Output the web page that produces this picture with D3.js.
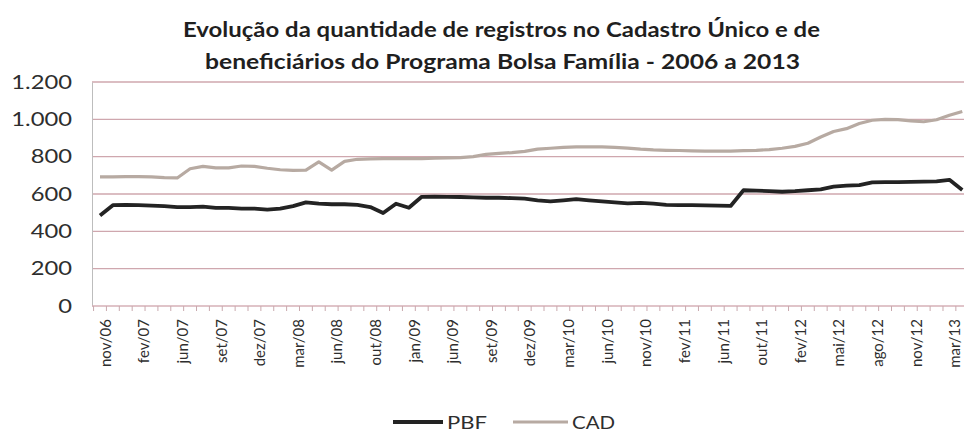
<!DOCTYPE html>
<html><head><meta charset="utf-8">
<script src="https://cdn.jsdelivr.net/npm/d3@7"></script>
<style>body{margin:0;background:#fff}svg{display:block}</style>
</head><body><svg id="c" width="964" height="433"></svg>
<script>
const categories=["nov/06","dez/06","jan/07","fev/07","mar/07","abr/07","jun/07","jul/07","ago/07","set/07","out/07","nov/07","dez/07","jan/08","fev/08","mar/08","abr/08","mai/08","jun/08","jul/08","ago/08","out/08","nov/08","dez/08","jan/09","mar/09","abr/09","jun/09","jul/09","ago/09","set/09","out/09","nov/09","dez/09","jan/10","fev/10","mar/10","abr/10","mai/10","jun/10","ago/10","set/10","nov/10","dez/10","jan/11","fev/11","abr/11","mai/11","jun/11","ago/11","set/11","out/11","dez/11","jan/12","fev/12","mar/12","abr/12","mai/12","jun/12","jul/12","ago/12","set/12","out/12","nov/12","jan/13","fev/13","mar/13","abr/13"];
const pbfValues=[485,540,542,540,538,535,530,530,532,526,526,522,522,516,522,535,555,548,545,545,542,530,498,548,526,585,586,585,584,582,580,580,578,575,566,560,566,572,566,560,555,550,552,548,542,540,540,539,538,536,620,618,615,612,615,620,625,640,645,648,662,664,664,665,666,668,676,622];
const cadValues=[692,692,693,693,692,688,686,735,748,740,740,750,748,738,730,727,728,772,728,775,786,788,789,790,790,790,792,793,795,800,812,818,822,828,840,845,850,852,853,852,850,846,840,836,834,833,831,830,830,830,832,834,838,845,855,872,905,935,950,978,995,1000,998,992,987,998,1022,1042];
const yTickValues=[0,200,400,600,800,1000,1200];
const seriesNames=["PBF","CAD"];
const seriesColors=["#232323","#b7aaa2"];
const titleLines=["Evolução da quantidade de registros no Cadastro Único e de","beneficiários do Programa Bolsa Família - 2006 a 2013"];

const svg=d3.select("#c");
const FONT="Lato, 'Open Sans', sans-serif";
svg.append("rect").attr("width",964).attr("height",433).attr("fill","#fff");

const x=d3.scalePoint().domain(categories).range([100,100+12.87*(categories.length-1)]);
const step=x.step();
const y=d3.scaleLinear().domain([0,1200]).range([306,82]);
const locale=d3.formatLocale({decimal:",",thousands:".",grouping:[3],currency:["R$",""]});
const fmt=locale.format(",d");

// gridlines
svg.append("g").selectAll("line").data(yTickValues.filter(d=>d>0)).join("line")
  .attr("x1",92).attr("x2",964).attr("y1",d=>y(d)).attr("y2",d=>y(d))
  .attr("stroke","#cfa7ae").attr("stroke-width",1.3);

// y axis
const ya=svg.append("g").attr("transform","translate(92,0)")
  .call(d3.axisLeft(y).tickValues(yTickValues).tickSize(0).tickPadding(0).tickFormat(fmt));
ya.select(".domain").attr("stroke","#bdbdbd").attr("stroke-width",1);
ya.selectAll("text").attr("font-family",FONT).attr("font-size",19).attr("fill","#2e2e2e")
  .attr("x",-20/1.25).attr("transform","scale(1.25,1)");

// x axis baseline and tick marks
svg.append("line").attr("x1",92).attr("x2",964).attr("y1",y(0)).attr("y2",y(0))
  .attr("stroke","#d6b0b7").attr("stroke-width",1.3);
svg.append("g").selectAll("line").data(categories).join("line")
  .attr("x1",d=>x(d)-step/2).attr("x2",d=>x(d)-step/2)
  .attr("y1",y(0)).attr("y2",y(0)+5).attr("stroke","#c9a9ae").attr("stroke-width",1);

const labelCats=categories.filter((d,i)=>i%3===0);
const xa=svg.append("g").attr("transform",`translate(0,${y(0)})`)
  .call(d3.axisBottom(x).tickValues(labelCats).tickSize(0).tickPadding(0));
xa.select(".domain").remove();
xa.selectAll("text").attr("font-family",FONT).attr("font-size",15).attr("fill","#2e2e2e")
  .attr("text-anchor","end").attr("dy","0.35em").attr("y",0).attr("x",0)
  .attr("transform","translate(5,13) rotate(-90)");

// lines
const line=d3.line().x((d,i)=>x(categories[i])).y(d=>y(d)).curve(d3.curveLinear);
svg.append("path").datum(cadValues).attr("d",line).attr("fill","none")
  .attr("stroke",seriesColors[1]).attr("stroke-width",3.2).attr("stroke-linejoin","round");
svg.append("path").datum(pbfValues).attr("d",line).attr("fill","none")
  .attr("stroke",seriesColors[0]).attr("stroke-width",3.8).attr("stroke-linejoin","round");

// title
const tl=svg.append("g");
tl.append("text").attr("x",501.5).attr("y",37).attr("text-anchor","middle")
  .attr("font-family",FONT).attr("font-weight","bold").attr("font-size",20).attr("fill","#1f1f1f")
  .attr("textLength",637).attr("lengthAdjust","spacingAndGlyphs").text(titleLines[0]);
tl.append("text").attr("x",502.5).attr("y",69).attr("text-anchor","middle")
  .attr("font-family",FONT).attr("font-weight","bold").attr("font-size",20).attr("fill","#1f1f1f")
  .attr("textLength",595).attr("lengthAdjust","spacingAndGlyphs").text(titleLines[1]);

// legend
const legendPos=[{x1:393,x2:443,tx:447,tw:40},{x1:513,x2:568,tx:572,tw:43}];
const lg=svg.append("g");
seriesNames.forEach((n,i)=>{
  const p=legendPos[i];
  lg.append("line").attr("x1",p.x1).attr("x2",p.x2).attr("y1",422).attr("y2",422)
    .attr("stroke",seriesColors[i]).attr("stroke-width",i===0?3.8:3.2);
  lg.append("text").attr("x",p.tx).attr("y",429).attr("font-family",FONT).attr("font-size",18)
    .attr("fill","#2e2e2e").attr("textLength",p.tw).attr("lengthAdjust","spacingAndGlyphs").text(n);
});
</script></body></html>
